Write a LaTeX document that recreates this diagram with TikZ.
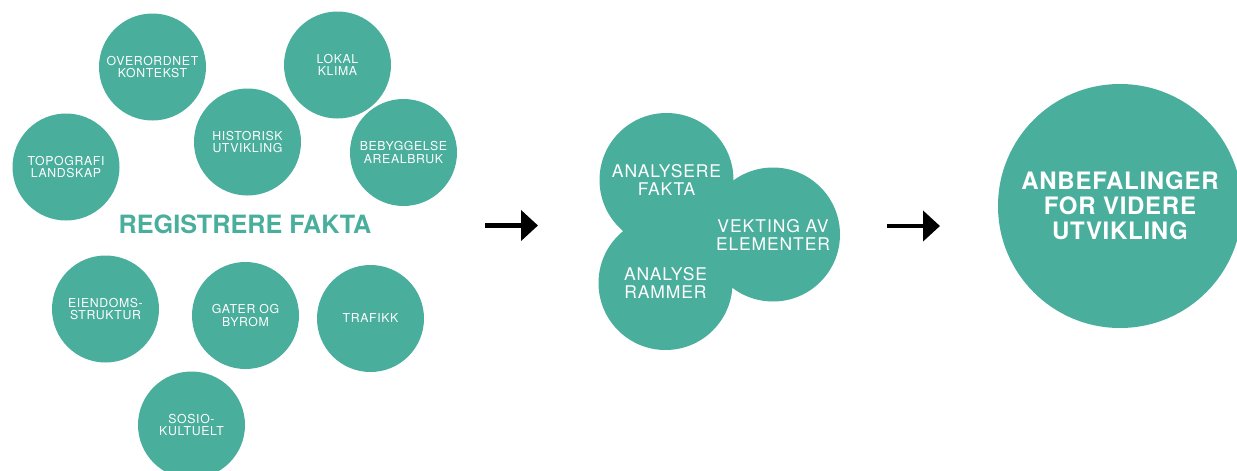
\documentclass[tikz,border=0pt]{standalone}
\usepackage{fontspec}
\setmainfont{TeX Gyre Heros}
\usetikzlibrary{arrows.meta}
\definecolor{fakta}{HTML}{49AE9C}

\tikzset{
  punkt/.style={circle, fill=fakta, inner sep=0pt, minimum size=107pt,
    align=center, text=white,
    font=\fontsize{12.3}{12.7}\selectfont\addfontfeature{LetterSpace=5}},
  analyse/.style={punkt, minimum size=134pt,
    font=\fontsize{17.5}{18}\selectfont\addfontfeature{LetterSpace=5}},
  resultat/.style={punkt, minimum size=244pt,
    font=\bfseries\fontsize{24}{25}\selectfont\addfontfeature{LetterSpace=3}},
  pil/.style={-{Triangle[length=17pt,width=30pt]}, line width=4.5pt}
}

\begin{document}
\begin{tikzpicture}[x=1pt,y=-1pt]
\useasboundingbox (0,0) rectangle (1237,471);
\clip (0,0) rectangle (1237,471);

% registrere fakta
\node (kontekst) [punkt] at (152.5,67)  {OVERORDNET\\KONTEKST};
\node (klima)    [punkt] at (337.5,65)  {LOKAL\\KLIMA};
\node (historie) [punkt] at (247.5,142) {HISTORISK\\UTVIKLING};
\node (topo)     [punkt] at (66,167)    {TOPOGRAFI\\LANDSKAP};
\node (bebygg)   [punkt] at (403.5,152.5) {BEBYGGELSE\\AREALBRUK};
\node (eiendom)  [punkt] at (105.5,309) {EIENDOMS-\\STRUKTUR};
\node (gater)    [punkt] at (245.5,315.5) {GATER OG\\BYROM};
\node (trafikk)  [punkt] at (370.5,318.5) {TRAFIKK};
\node (sosio)    [punkt] at (191.5,425) {SOSIO-\\KULTUELT};
\node (reg) [text=fakta, font=\bfseries\fontsize{25.2}{26}\selectfont]
  at (245,224.5) {REGISTRERE FAKTA};

% analyse
\node (afakta)  [analyse] at (666.5,180) {ANALYSERE\\FAKTA};
\node (rammer)  [analyse] at (665.5,283) {ANALYSE\\RAMMER};
\node (vekting) [analyse] at (773,234.5) {VEKTING AV\\ELEMENTER};

% anbefalinger
\node (anbef) [resultat] at (1120,206) {ANBEFALINGER\\FOR VIDERE\\UTVIKLING};

\coordinate (p1s) at (485,225.5);
\coordinate (p1e) at (538,225.5);
\coordinate (p2s) at (887,226);
\coordinate (p2e) at (940,226);
\draw[pil] (p1s) -- (p1e);
\draw[pil] (p2s) -- (p2e);
\end{tikzpicture}
\end{document}
